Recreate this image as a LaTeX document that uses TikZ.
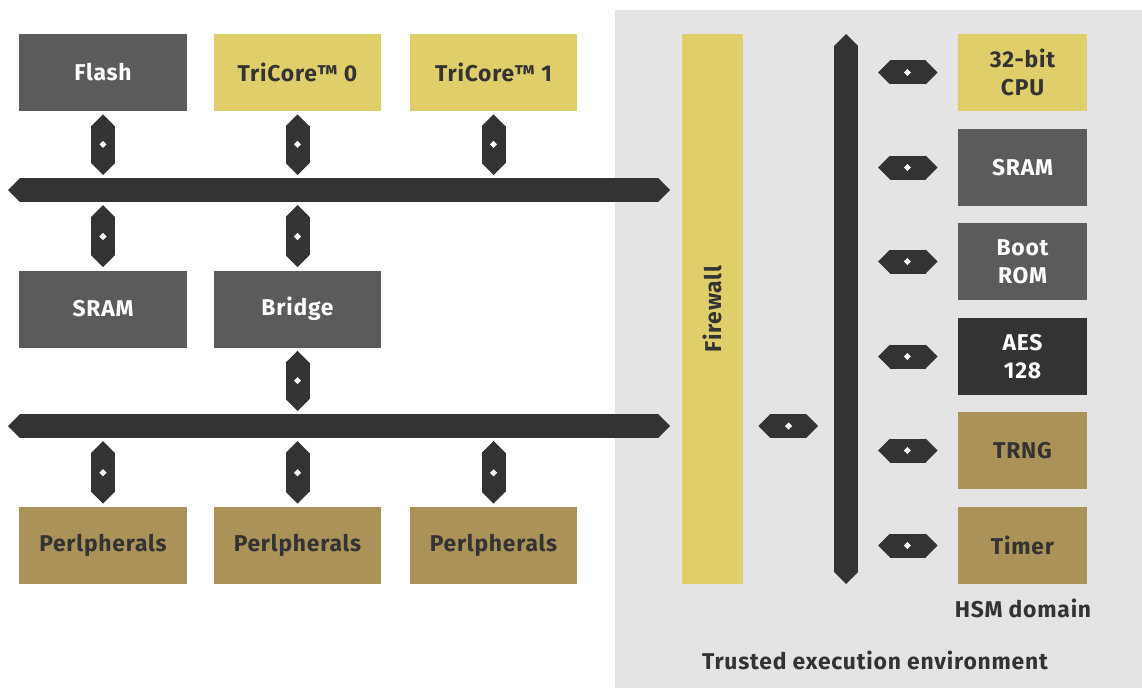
\documentclass[tikz,border=0pt]{standalone}
\usepackage{fontspec}
\setmainfont{Fira Sans}[LetterSpace=3.5]
\usepackage{tikz}
\usetikzlibrary{arrows.meta, positioning, calc}
\definecolor{blockgray}{HTML}{5A5B5A}
\definecolor{coreyellow}{HTML}{E0CE6B}
\definecolor{periphgold}{HTML}{AB9259}
\definecolor{busdark}{HTML}{333333}
\definecolor{teegray}{HTML}{E4E4E4}
\tikzset{hexend/.tip={Triangle[length=2.4mm, width=4.8mm, line width=0pt]}}

\begin{document}
\begin{tikzpicture}[
  x=0.2mm, y=-0.2mm,
  font=\fontsize{13}{16}\selectfont\bfseries,
  blk/.style={minimum width=33.4mm, minimum height=15.4mm, inner sep=0pt, align=center},
  grayblk/.style={blk, fill=blockgray, text=white},
  coreblk/.style={blk, fill=coreyellow, text=busdark},
  periblk/.style={blk, fill=periphgold, text=busdark},
  hsm/.style={minimum width=25.8mm},
  bus/.style={draw=busdark, line width=4.8mm, hexend-hexend},
  link/.style={bus, shorten <=0.6mm, shorten >=3mm},
  hlink/.style={bus, shorten <=4mm, shorten >=6.4mm},
  dot/.style={fill=white, minimum size=1mm, inner sep=0pt, rotate=45},
  caption/.style={text=busdark}
]
  \useasboundingbox (0,0) rectangle (1142,688);
  % trusted execution environment
  \fill[teegray] (615,10) rectangle (1142,688);

  % application side
  \node[grayblk] (flash) at (103,72.5) {Flash};
  \node[coreblk] (core0) at (297.5,72.5) {TriCore™ 0};
  \node[coreblk] (core1) at (493.5,72.5) {TriCore™ 1};
  \node[grayblk] (sram) at (103,309) {SRAM};
  \node[grayblk] (bridge) at (297.5,309) {Bridge};
  \node[periblk] (per0) at (103,545.5) {Perlpherals};
  \node[periblk] (per1) at (297.5,545.5) {Perlpherals};
  \node[periblk] (per2) at (493.5,545.5) {Perlpherals};

  \coordinate (busAw) at (8,190);
  \coordinate (busAe) at (670,190);
  \coordinate (busBw) at (8,426);
  \coordinate (busBe) at (670,426);
  \draw[bus] (busAw) -- (busAe);
  \draw[bus] (busBw) -- (busBe);

  \foreach \b in {flash,core0,core1}
    \draw[link] (\b.south) -- (\b.south |- busAw) node[dot, pos=0.42] {};
  \foreach \b in {sram,bridge}
    \draw[link] (\b.north) -- (\b.north |- busAw) node[dot, pos=0.42] {};
  \draw[link] (bridge.south) -- (bridge.south |- busBw) node[dot, pos=0.42] {};
  \foreach \b in {per0,per1,per2}
    \draw[link] (\b.north) -- (\b.north |- busBw) node[dot, pos=0.42] {};

  % firewall and HSM
  \node[coreblk, minimum width=12.2mm, minimum height=110mm] (fw) at (712.5,309)
    {\rotatebox{90}{Firewall}};
  \coordinate (hsmN) at (846,34);
  \coordinate (hsmS) at (846,584);
  \draw[bus] (hsmN) -- (hsmS);
  \draw[bus, shorten <=3mm, shorten >=5.6mm] (fw.east |- busBw) -- (busBw -| hsmN)
    node[dot, pos=0.44] {};

  \node[coreblk, hsm] (cpu) at (1022.5,72.5) {32-bit\\CPU};
  \node[grayblk, hsm] (hsram) at (1022.5,167.5) {SRAM};
  \node[grayblk, hsm] (brom) at (1022.5,261.5) {Boot\\ROM};
  \node[grayblk, hsm, fill=busdark] (aes) at (1022.5,356.5) {AES\\128};
  \node[periblk, hsm] (trng) at (1022.5,450.5) {TRNG};
  \node[periblk, hsm] (timer) at (1022.5,545.5) {Timer};
  \foreach \b in {cpu,hsram,brom,aes,trng,timer}
    \draw[hlink] (\b.west) -- (\b.west -| hsmN) node[dot, pos=0.45] {};

  \node[caption] (hsmlbl) at (1023,608) {HSM domain};
  \node[caption] (teelbl) at (875,660) {Trusted execution environment};
\end{tikzpicture}
\end{document}
